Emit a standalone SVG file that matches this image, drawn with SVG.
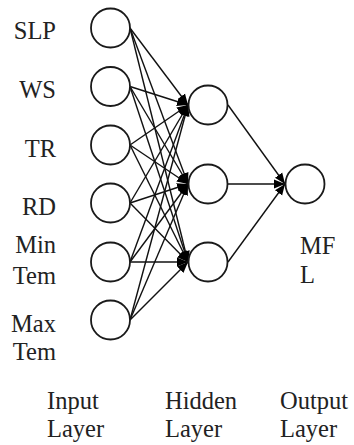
<svg xmlns="http://www.w3.org/2000/svg" width="354" height="445" viewBox="0 0 354 445">
<style>
.n{fill:#fff;stroke:#1a1a1a;stroke-width:1.8}
.c{stroke:#111;stroke-width:1.4;fill:none;marker-end:url(#ah)}
.r{text-anchor:end}
</style>
<defs>
<marker id="ah" markerUnits="userSpaceOnUse" markerWidth="12" markerHeight="10" refX="11" refY="5" orient="auto">
<path d="M0,0.5 L11,5 L0,9.5 z" fill="#000"/>
</marker>
</defs>
<g id="connectors">
<line class="c" x1="130" y1="28" x2="188" y2="105"/>
<line class="c" x1="130" y1="28" x2="188" y2="184"/>
<line class="c" x1="130" y1="28" x2="188" y2="262"/>
<line class="c" x1="130" y1="86.5" x2="188" y2="105"/>
<line class="c" x1="130" y1="86.5" x2="188" y2="184"/>
<line class="c" x1="130" y1="86.5" x2="188" y2="262"/>
<line class="c" x1="130" y1="145" x2="188" y2="105"/>
<line class="c" x1="130" y1="145" x2="188" y2="184"/>
<line class="c" x1="130" y1="145" x2="188" y2="262"/>
<line class="c" x1="130" y1="203" x2="188" y2="105"/>
<line class="c" x1="130" y1="203" x2="188" y2="184"/>
<line class="c" x1="130" y1="203" x2="188" y2="262"/>
<line class="c" x1="130" y1="262" x2="188" y2="105"/>
<line class="c" x1="130" y1="262" x2="188" y2="184"/>
<line class="c" x1="130" y1="262" x2="188" y2="262"/>
<line class="c" x1="130" y1="320" x2="188" y2="105"/>
<line class="c" x1="130" y1="320" x2="188" y2="184"/>
<line class="c" x1="130" y1="320" x2="188" y2="262"/>
<line class="c" x1="228" y1="105" x2="285" y2="184"/>
<line class="c" x1="228" y1="184" x2="285" y2="184"/>
<line class="c" x1="228" y1="262" x2="285" y2="184"/>
</g>
<g font-family="Liberation Serif, Times New Roman, serif" font-size="24.5" fill="#222">
<g id="in1"><circle class="n" cx="110.5" cy="28" r="19.5"/><text class="r" x="56" y="39">SLP</text></g>
<g id="in2"><circle class="n" cx="110.5" cy="86.5" r="19.5"/><text class="r" x="56" y="98">WS</text></g>
<g id="in3"><circle class="n" cx="110.5" cy="145" r="19.5"/><text class="r" x="56" y="157">TR</text></g>
<g id="in4"><circle class="n" cx="110.5" cy="203" r="19.5"/><text class="r" x="56" y="215">RD</text></g>
<g id="in5"><circle class="n" cx="110.5" cy="262" r="19.5"/><text class="r" x="56" y="253">Min</text><text class="r" x="56" y="284">Tem</text></g>
<g id="in6"><circle class="n" cx="110.5" cy="320" r="19.5"/><text class="r" x="56" y="332">Max</text><text class="r" x="56" y="360">Tem</text></g>
<g id="h1"><circle class="n" cx="208" cy="105" r="19.5"/></g>
<g id="h2"><circle class="n" cx="208" cy="184" r="19.5"/></g>
<g id="h3"><circle class="n" cx="208" cy="262" r="19.5"/></g>
<g id="out"><circle class="n" cx="305" cy="184" r="19.5"/><text x="300" y="254">MF</text><text x="300" y="283">L</text></g>
<g id="labels">
<text x="47" y="409">Input</text><text x="47" y="437">Layer</text>
<text x="165" y="409">Hidden</text><text x="165" y="437">Layer</text>
<text x="280" y="409">Output</text><text x="280" y="437">Layer</text>
</g>
</g>
</svg>
